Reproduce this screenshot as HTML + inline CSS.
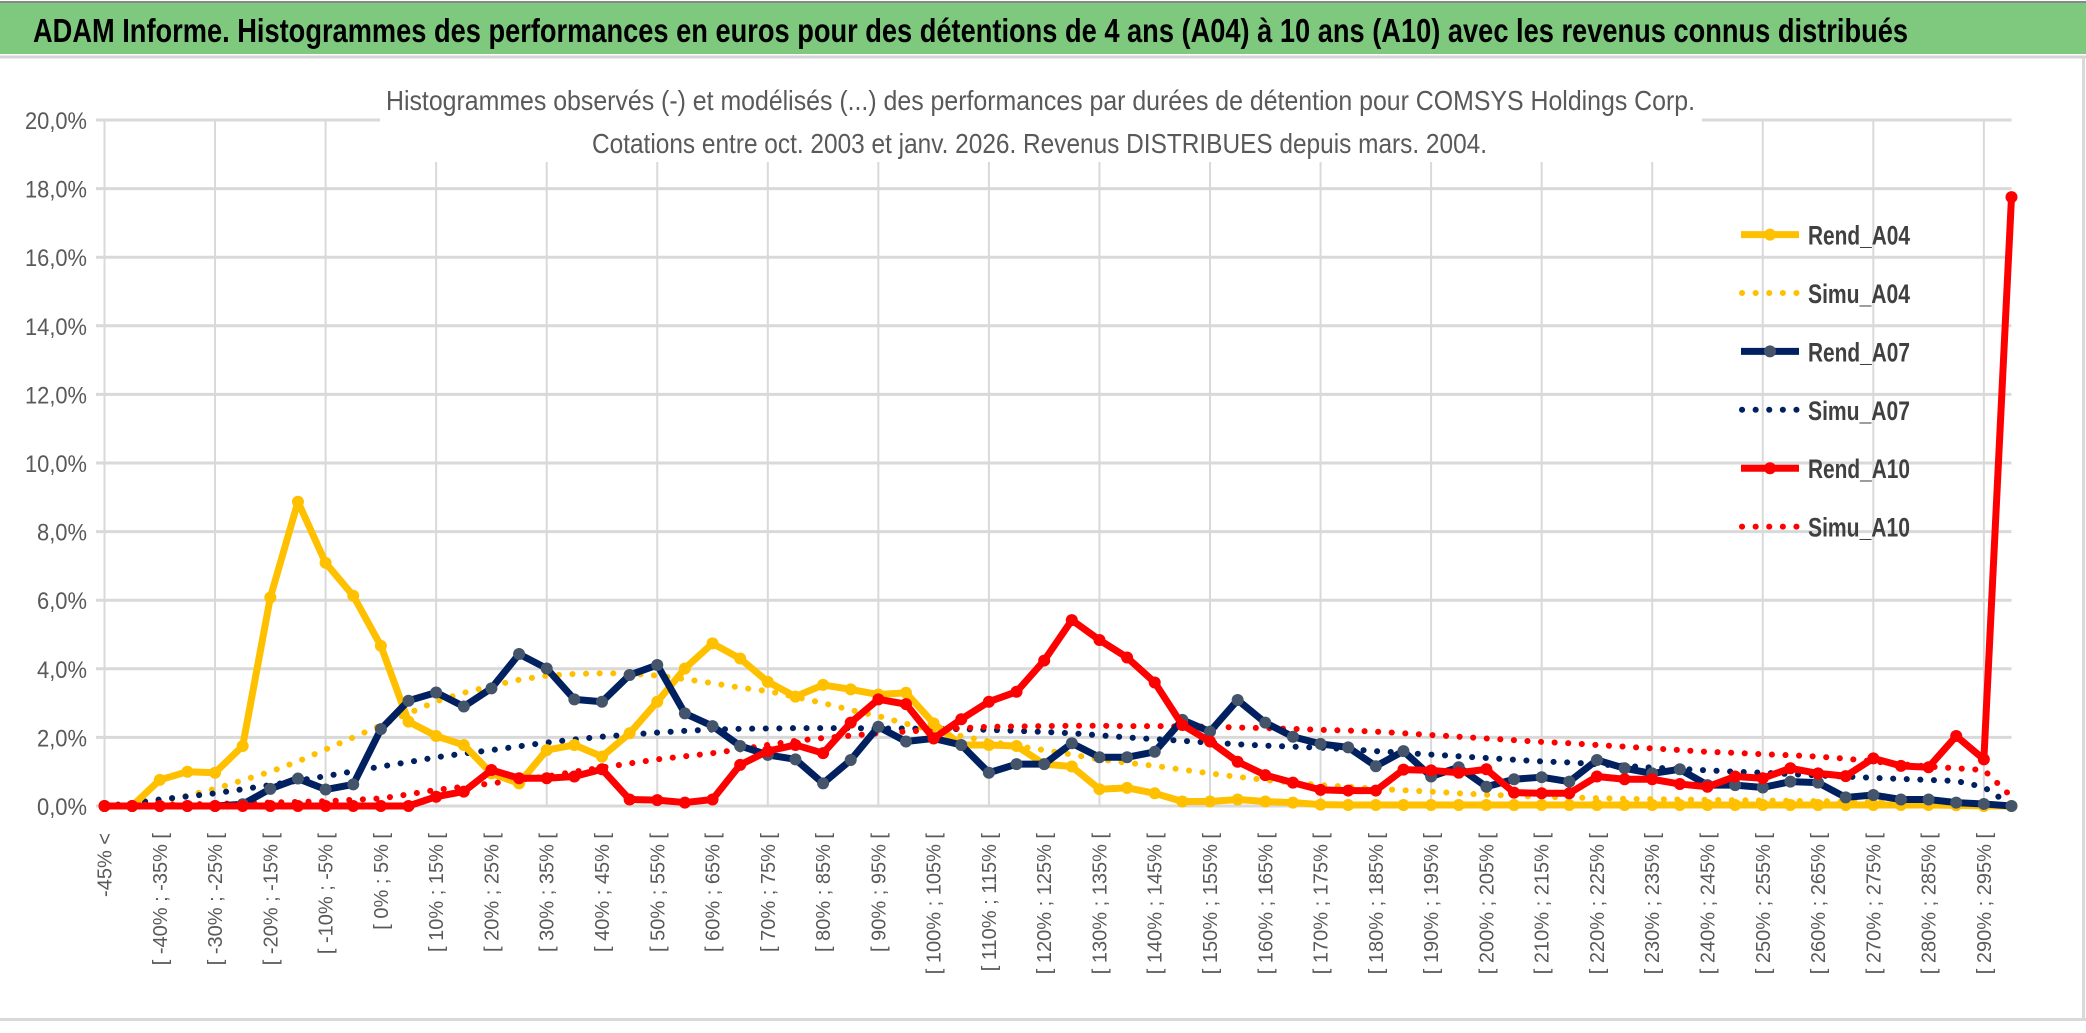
<!DOCTYPE html>
<html><head><meta charset="utf-8"><style>
html,body{margin:0;padding:0;background:#fff;}
svg{display:block;font-family:"Liberation Sans",sans-serif;}
</style></head><body>
<svg id="chart" width="2086" height="1033" viewBox="0 0 2086 1033" xmlns="http://www.w3.org/2000/svg">
<rect x="0" y="0" width="2086" height="1033" fill="#fff"/>
<rect x="0" y="3" width="2086" height="51" fill="#7fc97e"/>
<line x1="0" y1="2" x2="2086" y2="2" stroke="#888" stroke-width="2"/>
<line x1="0" y1="57" x2="2086" y2="57" stroke="#d4d4d4" stroke-width="3"/>
<text x="33" y="42" font-size="33" font-weight="bold" fill="#000" textLength="1875" lengthAdjust="spacingAndGlyphs">ADAM Informe. Histogrammes des performances en euros pour des détentions de 4 ans (A04) à 10 ans (A10) avec les revenus connus distribués</text>
<rect x="0" y="1018" width="2086" height="3" fill="#d9d9d9"/>
<rect x="2082" y="57" width="3" height="964" fill="#d9d9d9"/>
<g id="grid"></g>
<text x="386" y="110" font-size="28" fill="#595959" textLength="1309" lengthAdjust="spacingAndGlyphs">Histogrammes observés (-) et modélisés (...) des performances par durées de détention pour COMSYS Holdings Corp.</text>
<text x="592" y="153" font-size="28" fill="#595959" textLength="895" lengthAdjust="spacingAndGlyphs">Cotations entre oct. 2003 et janv. 2026. Revenus DISTRIBUES depuis mars. 2004.</text>
<g id="yaxis"></g>
<g id="xaxis"></g>
<g id="series"></g>
<g id="legend"></g>
</svg>
<script>
const categoriesCount = 70;
const yTicks = [0,2,4,6,8,10,12,14,16,18,20];
const yTickLabels = ["0,0%","2,0%","4,0%","6,0%","8,0%","10,0%","12,0%","14,0%","16,0%","18,0%","20,0%"];
const categoryLowerBounds = [];
for (let k=1;k<categoriesCount;k++) categoryLowerBounds.push(-45+5*(k-1));
const rendA04 = [0,0,0.76,1.0,0.97,1.75,6.08,8.87,7.09,6.13,4.67,2.46,2.04,1.78,0.95,0.66,1.63,1.78,1.44,2.12,3.04,4.01,4.74,4.3,3.62,3.19,3.53,3.4,3.25,3.3,2.41,1.78,1.78,1.75,1.22,1.15,0.49,0.53,0.37,0.13,0.13,0.19,0.13,0.1,0.04,0.03,0.03,0.03,0.03,0.03,0.03,0.03,0.03,0.03,0.03,0.03,0.03,0.03,0.03,0.03,0.03,0.03,0.03,0.03,0.03,0.03,0.03,0.02,0,0];
const simuA04 = [0,0.05,0.15,0.3,0.5,0.75,1.0,1.3,1.65,2.0,2.35,2.7,3.05,3.3,3.5,3.68,3.8,3.85,3.87,3.86,3.8,3.7,3.58,3.45,3.35,3.18,3.0,2.8,2.62,2.4,2.2,2.04,1.88,1.75,1.63,1.5,1.36,1.26,1.17,1.06,0.95,0.85,0.76,0.68,0.61,0.56,0.5,0.46,0.42,0.37,0.33,0.3,0.27,0.25,0.23,0.21,0.2,0.19,0.18,0.17,0.16,0.15,0.14,0.13,0.12,0.11,0.1,0.1,0.05,0];
const rendA07 = [0,0,0,0,0,0.05,0.5,0.8,0.48,0.63,2.24,3.07,3.31,2.9,3.43,4.43,4.01,3.11,3.04,3.82,4.11,2.7,2.33,1.75,1.49,1.36,0.66,1.34,2.31,1.88,1.97,1.78,0.97,1.22,1.22,1.83,1.42,1.42,1.58,2.51,2.17,3.09,2.43,2.02,1.81,1.71,1.16,1.6,0.86,1.13,0.56,0.78,0.84,0.71,1.34,1.1,0.95,1.07,0.61,0.61,0.54,0.71,0.68,0.25,0.32,0.19,0.19,0.1,0.06,0];
const simuA07 = [0,0.08,0.19,0.28,0.37,0.49,0.61,0.74,0.87,1.01,1.15,1.28,1.42,1.53,1.63,1.74,1.85,1.94,2.02,2.08,2.14,2.19,2.23,2.25,2.26,2.27,2.27,2.27,2.26,2.26,2.25,2.24,2.22,2.19,2.16,2.12,2.06,2.0,1.95,1.9,1.85,1.8,1.76,1.73,1.7,1.66,1.6,1.55,1.5,1.45,1.4,1.35,1.3,1.27,1.22,1.17,1.12,1.08,1.04,1.0,0.97,0.93,0.89,0.86,0.82,0.79,0.76,0.73,0.55,0.02];
const rendA10 = [0,0,0,0,0,0,0,0,0,0,0,0,0.27,0.42,1.05,0.81,0.81,0.86,1.07,0.19,0.17,0.1,0.19,1.2,1.6,1.78,1.54,2.43,3.11,2.97,1.97,2.53,3.04,3.33,4.24,5.42,4.84,4.33,3.6,2.36,1.88,1.29,0.9,0.68,0.47,0.45,0.45,1.06,1.04,0.97,1.07,0.39,0.37,0.37,0.86,0.78,0.78,0.64,0.56,0.86,0.81,1.1,0.95,0.87,1.39,1.17,1.13,2.04,1.36,17.75];
const simuA10 = [0.02,0.03,0.04,0.05,0.06,0.08,0.1,0.12,0.14,0.18,0.22,0.34,0.47,0.56,0.66,0.76,0.86,1.0,1.12,1.24,1.36,1.45,1.54,1.65,1.78,1.9,1.98,2.05,2.12,2.17,2.22,2.27,2.31,2.32,2.33,2.34,2.34,2.33,2.33,2.32,2.31,2.29,2.27,2.25,2.22,2.2,2.17,2.12,2.07,2.02,1.97,1.92,1.87,1.83,1.78,1.73,1.68,1.63,1.58,1.55,1.51,1.48,1.44,1.38,1.3,1.22,1.15,1.1,1.05,0.27];
const seriesNames = ["Rend_A04","Simu_A04","Rend_A07","Simu_A07","Rend_A10","Simu_A10"];

const NS="http://www.w3.org/2000/svg";
const X0=104.5, X1=2011.5, Y0=806, Y20=120;
function xPos(i){return X0+(X1-X0)*i/(categoriesCount-1);}
function yPos(v){return Y0-(Y0-Y20)*v/20;}
function mk(tag,attrs,parent){const e=document.createElementNS(NS,tag);for(const k in attrs)e.setAttribute(k,attrs[k]);parent.appendChild(e);return e;}

const grid=document.getElementById('grid');
yTicks.forEach(function(t){
  const l=mk('line',{x1:96,x2:X1,y1:yPos(t),y2:yPos(t),stroke:'#d9d9d9','stroke-width':3},grid);
  
  
});
for(let i=0;i<categoriesCount;i+=4){
  const l=mk('line',{x1:xPos(i),x2:xPos(i),y1:Y20,y2:Y0,stroke:'#d9d9d9','stroke-width':2},grid);
  
  
}
const bg1=mk('rect',{x:380,y:82,width:1322,height:80,fill:'#fff'},grid);



const ya=document.getElementById('yaxis');
yTicks.forEach(function(t,k){
  const tx=mk('text',{x:87,y:yPos(t)+9,'font-size':24,fill:'#595959','text-anchor':'end',textLength:(yTickLabels[k].length>4?62:50),lengthAdjust:'spacingAndGlyphs'},ya);
  tx.textContent=yTickLabels[k];
  
  
});
const xa=document.getElementById('xaxis');
for(let i=0;i<categoriesCount;i+=2){
  let lab = i===0 ? "-45% <" : "[ "+categoryLowerBounds[i-1]+"% ; "+(categoryLowerBounds[i-1]+5)+"% [";
  const x=xPos(i)+7;
  const tx=mk('text',{x:x,y:833,'font-size':20,fill:'#595959','text-anchor':'end',transform:'rotate(-90 '+x+' 833)'},xa);
  tx.textContent=lab;
  
  
}

const sg=document.getElementById('series');
function pts(arr){return arr.map(function(v,i){return xPos(i)+','+yPos(v);}).join(' ');}
function dotted(arr,color,name){
  const p=mk('polyline',{points:pts(arr),fill:'none',stroke:color,'stroke-width':6,'stroke-linecap':'round','stroke-dasharray':'0.1 13.5'},sg);
  
  
}
function solid(arr,color,mcolor,name){
  const p=mk('polyline',{points:pts(arr),fill:'none',stroke:color,'stroke-width':7,'stroke-linejoin':'round'},sg);
  
  
  arr.forEach(function(v,i){
    const c=mk('circle',{cx:xPos(i),cy:yPos(v),r:6,fill:mcolor},sg);
    
    
  });
}
dotted(simuA04,'#ffc000','simu-a04-line');
dotted(simuA07,'#002060','simu-a07-line');
dotted(simuA10,'#ff0000','simu-a10-line');
solid(rendA04,'#ffc000','#ffc000','rend-a04-line');
solid(rendA07,'#002060','#44546a','rend-a07-line');
solid(rendA10,'#ff0000','#ff0000','rend-a10-line');

const lg=document.getElementById('legend');
const legColors=['#ffc000','#ffc000','#002060','#002060','#ff0000','#ff0000'];
seriesNames.forEach(function(n,k){
  const y=234.6+k*58.4;
  const g=mk('g',{},lg);
  
  
  if(k%2===0){
    mk('line',{x1:1741,x2:1799,y1:y,y2:y,stroke:legColors[k],'stroke-width':7},g);
    mk('circle',{cx:1770,cy:y,r:6,fill:k===2?'#44546a':legColors[k]},g);
  } else {
    mk('line',{x1:1742,x2:1799,y1:y,y2:y,stroke:legColors[k],'stroke-width':6,'stroke-linecap':'round','stroke-dasharray':'0.1 13.5'},g);
  }
  const t=mk('text',{x:1808,y:y+10,'font-size':27,'font-weight':'bold',fill:'#404040',textLength:102,lengthAdjust:'spacingAndGlyphs'},g);
  t.textContent=n;
});
</script>
</body></html>
